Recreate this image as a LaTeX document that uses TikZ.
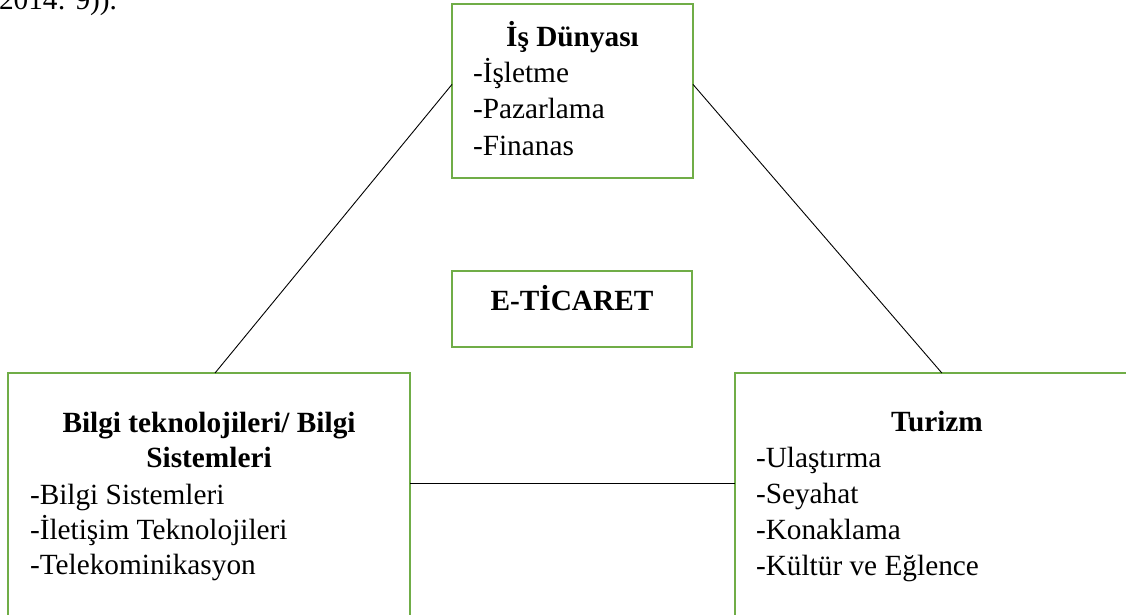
\documentclass[tikz,border=0pt]{standalone}
\usepackage{fontspec}
\setmainfont{Liberation Serif}
\usetikzlibrary{calc}
\definecolor{boxgreen}{RGB}{112,173,71}
\begin{document}
\begin{tikzpicture}[x=1pt,y=-1pt,
  box/.style={draw=boxgreen,line width=1.6pt,fill=none,inner sep=0pt,outer sep=0pt},
  link/.style={draw=black,line width=0.9pt},
  txt/.style={inner sep=0pt,outer sep=0pt,font=\fontsize{29.3}{36}\selectfont,anchor=base west},
  head/.style={inner sep=0pt,outer sep=0pt,font=\fontsize{29.3}{36}\selectfont\bfseries,anchor=base}]
\useasboundingbox (0,0) rectangle (1126,614);
\clip (0,0) rectangle (1126,614);
% boxes
\node[box,minimum width=241pt,minimum height=174pt] (top) at (572.5,91) {};
\node[box,minimum width=240pt,minimum height=76pt] (mid) at (572,309) {};
\node[box,minimum width=402pt,minimum height=267pt] (bl) at (209,506.5) {};
\node[box,minimum width=404pt,minimum height=267pt] (br) at (937,506.5) {};
% connectors
\draw[link] ($(top.north west)!0.462!(top.south west)$) -- ($(bl.north west)!0.515!(bl.north east)$);
\draw[link] ($(top.north east)!0.462!(top.south east)$) -- ($(br.north west)!0.512!(br.north east)$);
\draw[link] ($(bl.north east)!0.412!(bl.south east)$) -- ($(br.north west)!0.412!(br.south west)$);
% texts
\node[txt] (cite) at (-1,9) {2014: 9)).};
\node[head] (th) at (572.5,46) {İş Dünyası};
\node[txt] (t1) at (473,82) {-İşletme};
\node[txt] (t2) at (473,118.5) {-Pazarlama};
\node[txt] (t3) at (473,155) {-Finanas};
\node[head] (mh) at (572,310) {E-TİCARET};
\node[head] (bh1) at (209,432) {Bilgi teknolojileri/ Bilgi};
\node[head] (bh2) at (209,467.5) {Sistemleri};
\node[txt] (b1) at (30,504) {-Bilgi Sistemleri};
\node[txt] (b2) at (30,539) {-İletişim Teknolojileri};
\node[txt] (b3) at (30,574) {-Telekominikasyon};
\node[head] (rh) at (937,431) {Turizm};
\node[txt] (r1) at (756,467) {-Ulaştırma};
\node[txt] (r2) at (756,503) {-Seyahat};
\node[txt] (r3) at (756,539) {-Konaklama};
\node[txt] (r4) at (756,575) {-Kültür ve Eğlence};
\end{tikzpicture}
\end{document}
